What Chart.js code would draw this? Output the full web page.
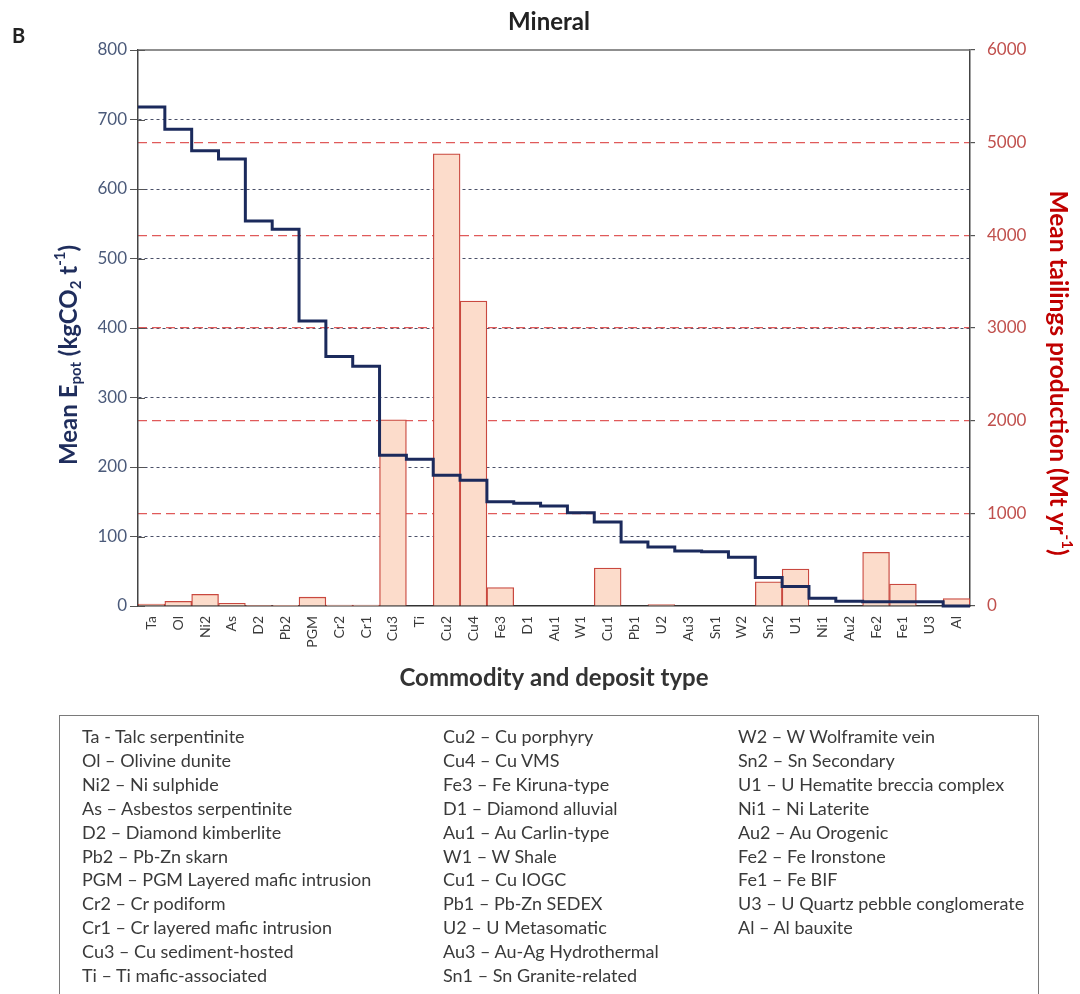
<!DOCTYPE html>
<html><head><meta charset="utf-8">
<script src="https://cdn.jsdelivr.net/npm/chart.js@4.4.1/dist/chart.umd.min.js"></script>
<style>
html,body{margin:0;padding:0;background:#fff;width:1080px;height:994px;overflow:hidden;font-family:Lato,"Open Sans",sans-serif;}
#wrap{position:absolute;left:0;top:0;width:1080px;height:994px;}
#legend{position:absolute;left:59px;top:715px;width:980px;height:300px;border:1.5px solid #7a7a7a;box-sizing:border-box;}
.col{position:absolute;top:9px;font-size:18px;line-height:23.9px;color:#3a3a3a;white-space:nowrap;}
</style></head>
<body>
<div id="wrap"><canvas id="c" width="1080" height="994"></canvas></div>
<div id="legend"></div>
<script>
// ---- data ----
const categories = ["Ta","Ol","Ni2","As","D2","Pb2","PGM","Cr2","Cr1","Cu3","Ti","Cu2","Cu4","Fe3","D1","Au1","W1","Cu1","Pb1","U2","Au3","Sn1","W2","Sn2","U1","Ni1","Au2","Fe2","Fe1","U3","Al"];
const epot = [718,686,655,643,554,542,410,359,345,217,211,188,181,150,148,144,134,121,92,85,79,78,70,41,28,11,7,6,6,6,0];
const tailings = [20,50,126,28,8,3,95,10,10,2010,0,4880,3290,200,0,0,0,410,0,15,0,0,0,262,398,0,0,580,237,0,80];
const leftTickStep = 100, leftMax = 800;
const rightTickStep = 1000, rightMax = 6000;
const legendCol1 = ["Ta - Talc serpentinite","Ol – Olivine dunite","Ni2 – Ni sulphide","As – Asbestos serpentinite","D2 – Diamond kimberlite","Pb2 – Pb-Zn skarn","PGM – PGM Layered mafic intrusion","Cr2 – Cr podiform","Cr1 – Cr layered mafic intrusion","Cu3 – Cu sediment-hosted","Ti – Ti mafic-associated"];
const legendCol2 = ["Cu2 – Cu porphyry","Cu4 – Cu VMS","Fe3 – Fe Kiruna-type","D1 – Diamond alluvial","Au1 – Au Carlin-type","W1 – W Shale","Cu1 – Cu IOGC","Pb1 – Pb-Zn SEDEX","U2 – U Metasomatic","Au3 – Au-Ag Hydrothermal","Sn1 – Sn Granite-related"];
const legendCol3 = ["W2 – W Wolframite vein","Sn2 – Sn Secondary","U1 – U Hematite breccia complex","Ni1 – Ni Laterite","Au2 – Au Orogenic","Fe2 – Fe Ironstone","Fe1 – Fe BIF","U3 – U Quartz pebble conglomerate","Al – Al bauxite"];

// ---- legend box ----
const leg = document.getElementById('legend');
[[legendCol1,22],[legendCol2,383],[legendCol3,678]].forEach(([arr,x])=>{
  const d=document.createElement('div'); d.className='col'; d.style.left=x+'px';
  d.innerHTML=arr.map(s=>'<div>'+s+'</div>').join(''); leg.appendChild(d);
});

// step line points at category boundaries
const stepPts = epot.map((v,i)=>({x:i,y:v}));
stepPts.push({x:categories.length,y:epot[epot.length-1]});

const FONT = 'Lato, "Open Sans", sans-serif';
function richText(ctx, segs, x, y, rot, size, color){
  ctx.save();
  ctx.translate(x,y); ctx.rotate(rot);
  ctx.fillStyle=color; ctx.textBaseline='middle'; ctx.textAlign='left';
  let total=0;
  const f = s => (s.t==='n'? `bold ${size}px ${FONT}` : `bold ${Math.round(size*0.62)}px ${FONT}`);
  segs.forEach(s=>{ctx.font=f(s); s.w=ctx.measureText(s.s).width; total+=s.w;});
  let cx=-total/2;
  segs.forEach(s=>{
    ctx.font=f(s);
    const dy = s.t==='sub'? size*0.3 : s.t==='sup'? -size*0.35 : 0;
    ctx.fillText(s.s,cx,dy); cx+=s.w;
  });
  ctx.restore();
}
const decor = {
  id:'decor',
  afterDraw(chart){
    const ctx=chart.ctx, a=chart.chartArea, ys=chart.scales.y;
    ctx.save();
    ctx.strokeStyle='#6a6a6a'; ctx.lineWidth=1.5;
    ctx.beginPath(); ctx.moveTo(a.left,a.top); ctx.lineTo(a.right,a.top); ctx.stroke();
    // inner half of the crossing tick marks on the left axis
    ctx.strokeStyle='#555'; ctx.lineWidth=1;
    ys.ticks.forEach(t=>{const py=Math.round(ys.getPixelForValue(t.value))+0.5; ctx.beginPath(); ctx.moveTo(a.left,py); ctx.lineTo(a.left+7,py); ctx.stroke();});
    ctx.fillStyle='#222'; ctx.textBaseline='middle';
    ctx.font=`bold 20px ${FONT}`; ctx.textAlign='left'; ctx.fillText('B',12,37);
    ctx.font=`bold 24px ${FONT}`; ctx.textAlign='center'; ctx.fillText('Mineral',549,22);
    ctx.fillStyle='#333';
    ctx.font=`bold 24px ${FONT}`; ctx.fillText('Commodity and deposit type',554,678);
    ctx.restore();
    richText(ctx,[{s:'Mean E',t:'n'},{s:'pot',t:'sub'},{s:' (kgCO',t:'n'},{s:'2',t:'sub'},{s:' t',t:'n'},{s:'-1',t:'sup'},{s:')',t:'n'}],69,355,-Math.PI/2,24,'#1f2d5c');
    richText(ctx,[{s:'Mean tailings production (Mt yr',t:'n'},{s:'-1',t:'sup'},{s:')',t:'n'}],1058,373,Math.PI/2,24.5,'#c00000');
  }
};

new Chart(document.getElementById('c'),{
  type:'bar',
  data:{
    labels:categories,
    datasets:[
      {type:'line',data:stepPts,xAxisID:'x2',yAxisID:'y',stepped:'before',borderColor:'#1b2a5c',borderWidth:3,pointRadius:0,fill:false,order:0,tension:0,clip:false},
      {type:'bar',data:tailings,xAxisID:'x',yAxisID:'y2',grouped:false,backgroundColor:'#fcdccb',borderColor:'#c9483f',borderWidth:1.3,categoryPercentage:1,barPercentage:1,order:1}
    ]
  },
  options:{
    responsive:false,animation:false,devicePixelRatio:1,
    layout:{padding:{top:50,left:0,right:0,bottom:0}},
    plugins:{legend:{display:false},tooltip:{enabled:false},title:{display:false}},
    scales:{
      x:{type:'category',offset:true,position:'bottom',
        grid:{display:false,drawTicks:false},
        border:{display:true,color:'#333',width:1.5},
        ticks:{autoSkip:false,maxRotation:90,minRotation:90,padding:10,color:'#3a3a3a',font:{family:FONT,size:14}},
        afterFit(s){s.height=388;}
      },
      x2:{type:'linear',display:false,offset:false,grid:{offset:false},min:0,max:categories.length},
      y:{position:'left',min:0,max:leftMax,
        ticks:{stepSize:leftTickStep,color:'#4b5a7a',padding:3,font:{family:FONT,size:17}},
        grid:{color:c=>(c.tick&&(c.tick.value===0||c.tick.value===leftMax))?'rgba(0,0,0,0)':'#4a5068',lineWidth:1,tickLength:8,tickColor:'#555',tickBorderDash:[]},
        border:{display:true,color:'#444',width:1.5,dash:[3,3]},
        afterFit(s){s.width=138;}
      },
      y2:{position:'right',min:0,max:rightMax,
        ticks:{stepSize:rightTickStep,color:'#c0504d',padding:12,font:{family:FONT,size:17},callback:v=>String(v)},
        grid:{color:c=>(c.tick&&(c.tick.value===0||c.tick.value===rightMax))?'rgba(0,0,0,0)':'#e05a5a',lineWidth:1.2,tickLength:5,tickColor:'#555',tickBorderDash:[]},
        border:{display:true,color:'#444',width:1.5,dash:[9,5]},
        afterFit(s){s.width=110;}
      }
    }
  },
  plugins:[decor]
});
</script>
</body></html>
